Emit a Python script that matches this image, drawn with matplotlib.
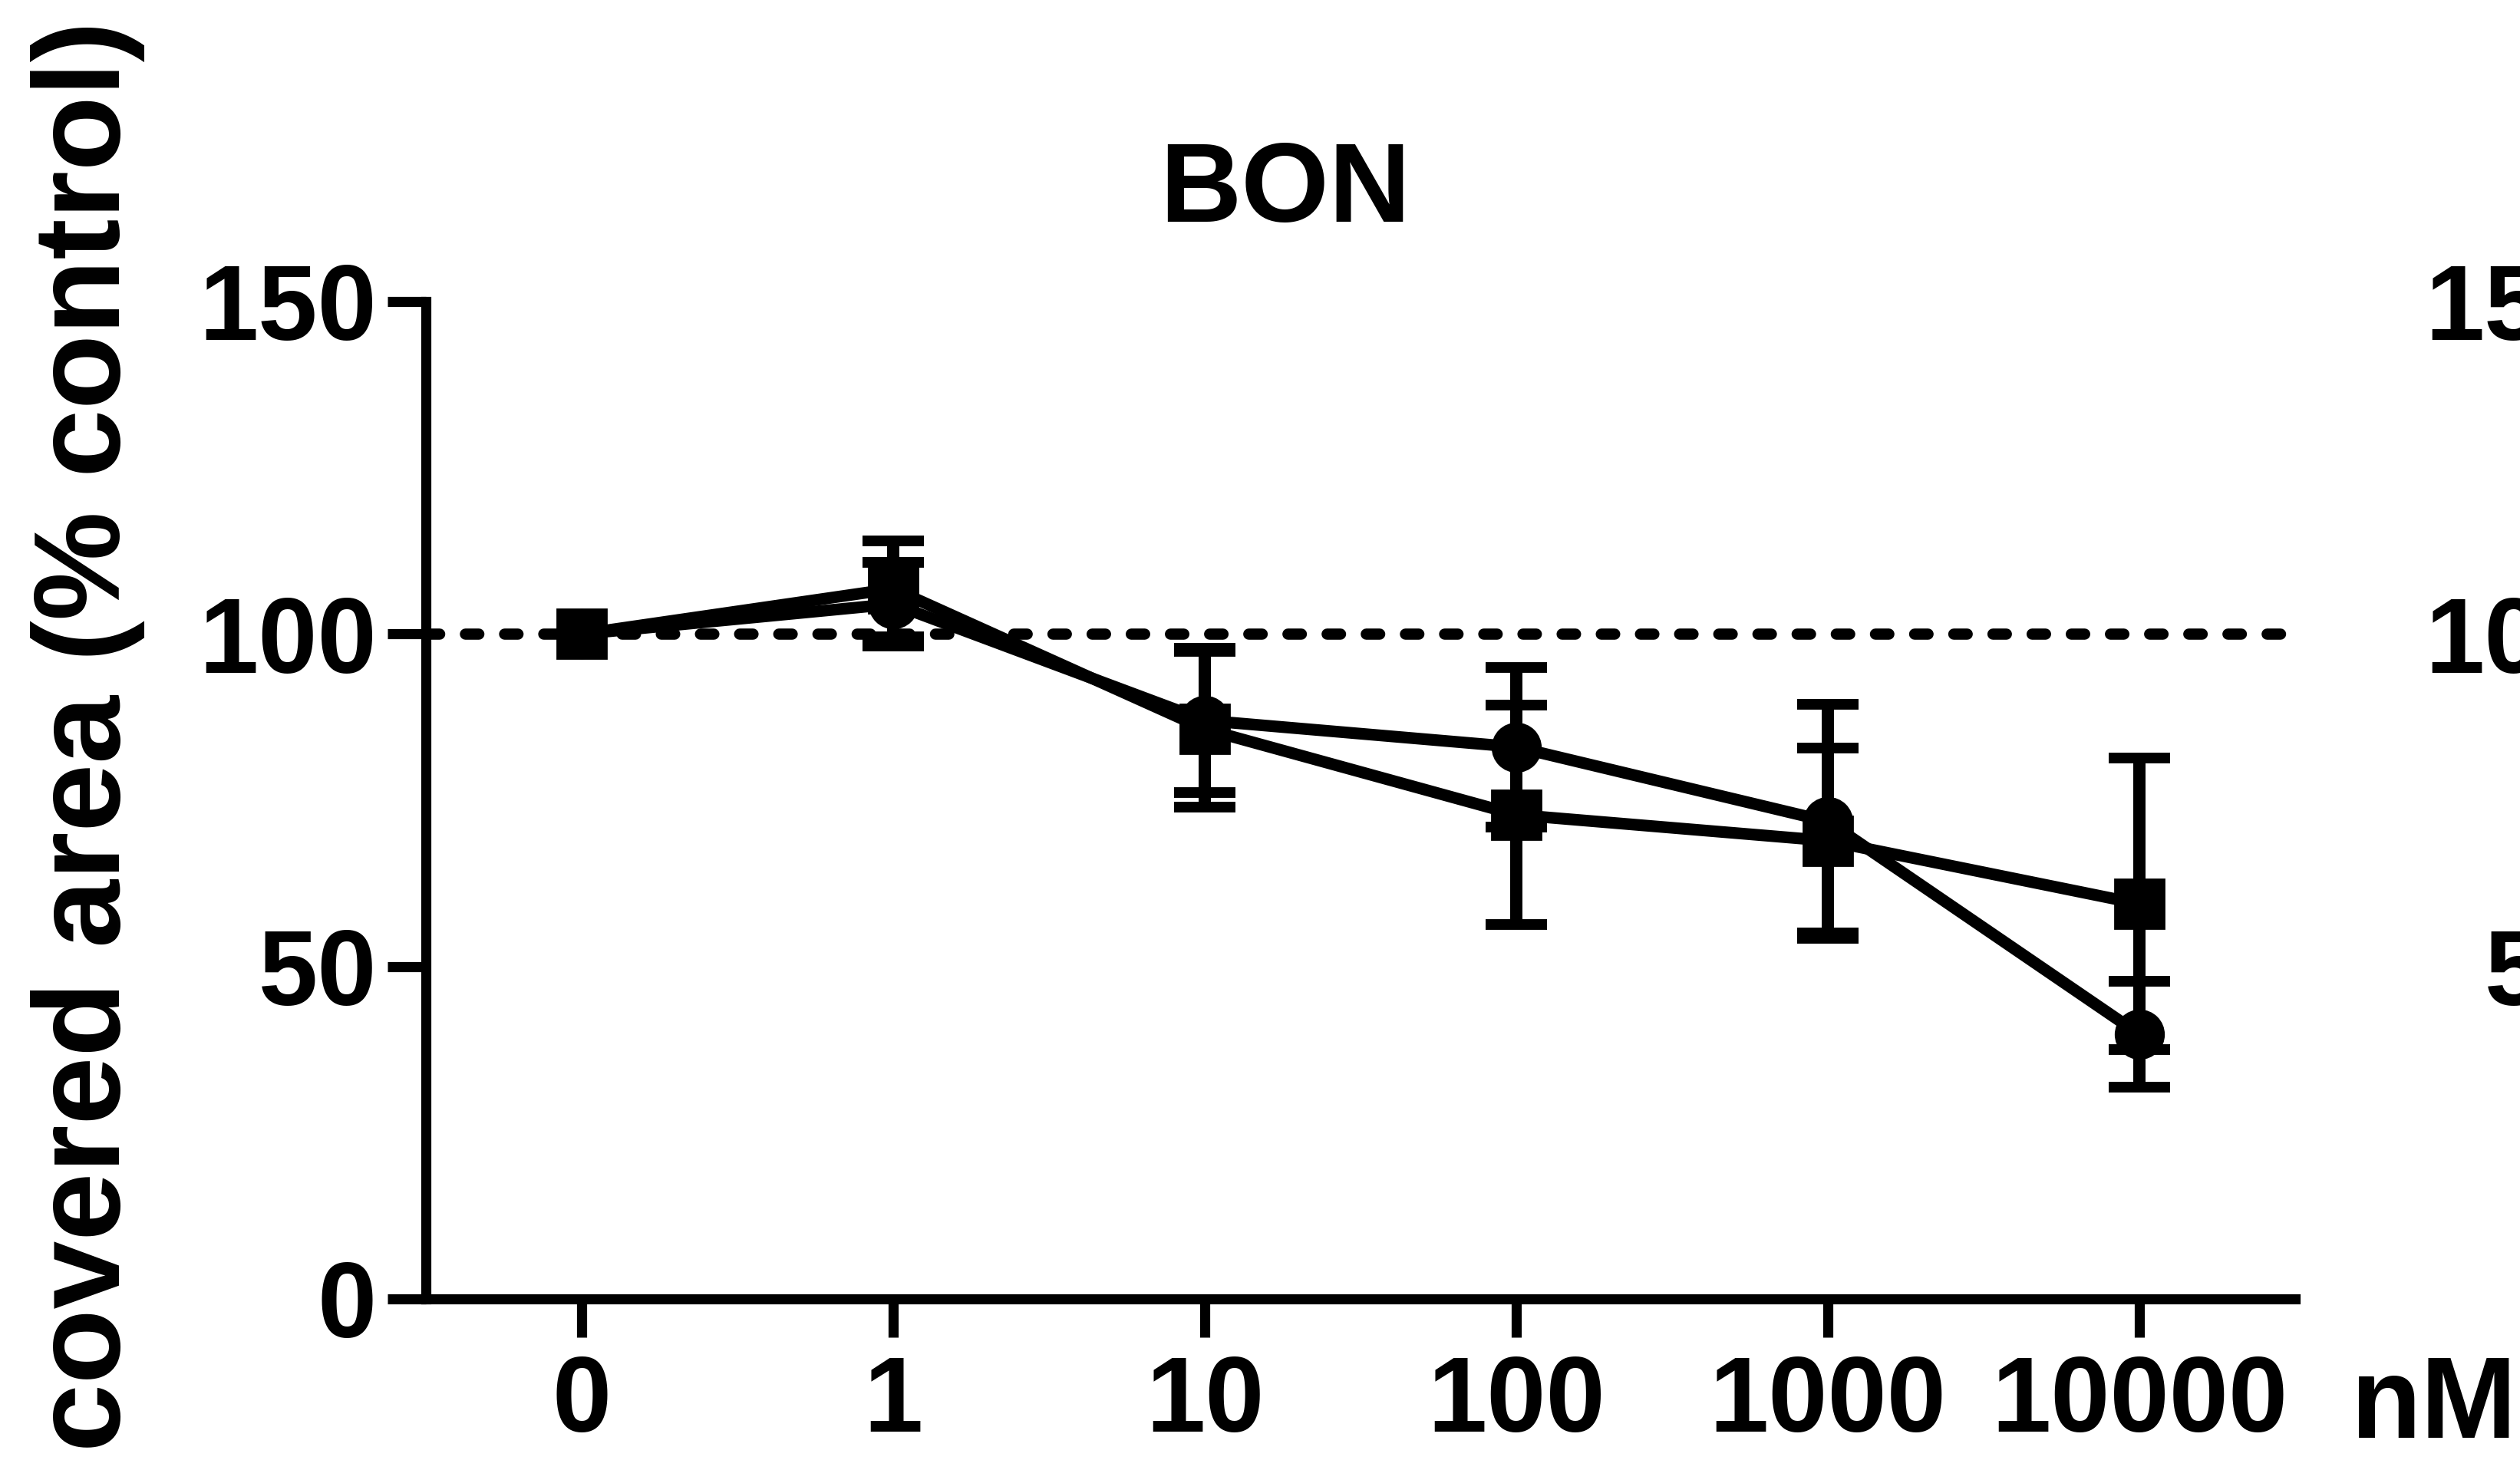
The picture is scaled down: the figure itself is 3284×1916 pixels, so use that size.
import matplotlib
matplotlib.use("Agg")
import matplotlib.pyplot as plt
import numpy as np

# ---- data ----
categories = ["0", "1", "10", "100", "1000", "10000"]
circle_mean = [100, 104.5, 87.0, 83.0, 71.8, 39.8]
circle_err = [0, 6.3, 10.8, 12.0, 17.6, 8.0]
square_mean = [100, 106.8, 85.7, 72.8, 68.9, 59.4]
square_err = [0, 7.2, 11.7, 16.5, 13.9, 21.9]
y_ticks = [0, 50, 100, 150]
title = "BON"
y_label = "covered area (% control)"
unit_label = "nM"
right_panel_ticks = ["150", "100", "50"]

plt.rcParams['font.family'] = ['Liberation Sans', 'DejaVu Sans']
plt.rcParams['font.weight'] = 'bold'

W, H, DPI = 3284, 1916, 100
fig = plt.figure(figsize=(W / DPI, H / DPI), dpi=DPI)
fig.patch.set_facecolor("white")

ax = fig.add_axes([0.1690, 0.1164, 0.7418, 0.6785])
x = np.arange(len(categories))

LW = 11
TICKFS = 100
# dotted reference line at 100
ax.axhline(100, color="black", lw=10.5, linestyle=(0, (1.2, 2.3)),
           dash_capstyle="round", zorder=1)

# lines + markers
ax.plot(x, circle_mean, "-", color="black", lw=LW, marker="o", ms=45,
        mew=2, zorder=3, solid_joinstyle="round")
ax.plot(x, square_mean, "-", color="black", lw=LW, marker="s", ms=46,
        mew=2, zorder=4, solid_joinstyle="round")

# error bars (skip the control point without error)
idx = x[1:]
for m, e in ((circle_mean, circle_err), (square_mean, square_err)):
    ax.errorbar(idx, np.array(m)[1:], yerr=np.array(e)[1:], fmt="none",
                ecolor="black", elinewidth=11.5, capsize=29, capthick=10,
                zorder=5)

ax.set_xlim(-0.5, 5.5)
ax.set_ylim(0, 150)
ax.set_xticks(x)
ax.set_xticklabels(categories)
ax.set_yticks(y_ticks)
ax.set_yticklabels([str(t) for t in y_ticks])

for s in ["top", "right"]:
    ax.spines[s].set_visible(False)
for s in ["left", "bottom"]:
    ax.spines[s].set_linewidth(9.5)
    ax.spines[s].set_capstyle("projecting")

ax.tick_params(axis="both", which="major", length=36, width=9.5, color="black",
               labelsize=TICKFS, direction="out")
ax.tick_params(axis="x", pad=16)
ax.tick_params(axis="y", pad=10)
for lab in ax.get_xticklabels() + ax.get_yticklabels():
    lab.set_fontweight("bold")

# title
fig.text(0.510, 0.849, title, ha="center", va="baseline", fontsize=106,
         fontweight="bold")

# y label
fig.text(0.0475, 0.499, y_label, rotation=90, rotation_mode="anchor",
         ha="center", va="baseline", fontsize=115, fontweight="bold")

# unit label
fig.text(0.933, 0.0219, unit_label, ha="left", va="baseline", fontsize=108,
         fontweight="bold")

# partial tick labels of the neighbouring panel (clipped at figure edge)
for lab, val in zip(right_panel_ticks, [150, 100, 50]):
    ypix = ax.transData.transform((0, val))[1]
    fig.text(1.033, ypix / H, lab, ha="right", va="center_baseline",
             fontsize=TICKFS, fontweight="bold")

fig.savefig("out.png", dpi=DPI, facecolor="white")
